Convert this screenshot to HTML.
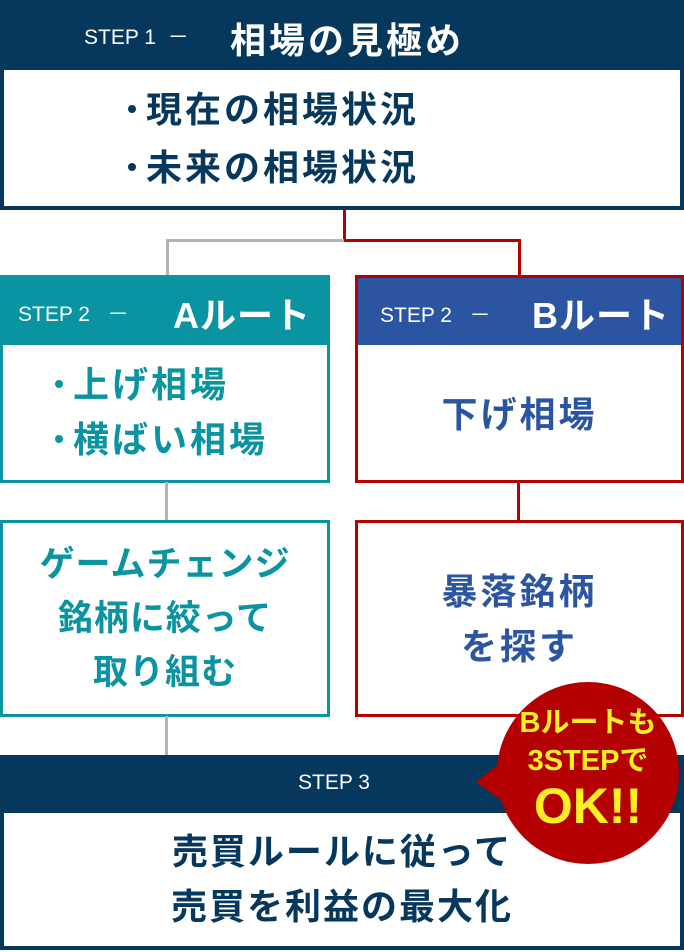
<!DOCTYPE html>
<html><head><meta charset="utf-8"><style>
*{margin:0;padding:0;box-sizing:border-box}
body{width:684px;height:952px;background:#fff;position:relative;overflow:hidden;font-family:"Liberation Sans","Noto Sans CJK JP",sans-serif;font-weight:bold}
.a{position:absolute}
.c{display:flex;align-items:center;justify-content:center;text-align:center}
.s{font-weight:normal;font-size:21px}
.b{display:inline-block;width:22px;height:10px;position:relative;vertical-align:middle}
.b::before{content:"";position:absolute;left:4px;top:-2px;width:8px;height:8px;border-radius:50%;background:currentColor}
.t{font-size:36px;letter-spacing:3px;white-space:nowrap}
</style></head><body>
<div class="a" style="left:0;top:0;width:684px;height:70px;background:#06375c;color:#fff">
<span class="a s" style="left:84px;top:21px">STEP 1 &nbsp;－</span>
<span class="a t" style="left:230px;top:12px;font-size:36px">相場の見極め</span></div>
<div class="a t" style="left:0;top:68px;width:684px;height:142px;border:4px solid #06375c;border-top:none;color:#06375c;line-height:58px;padding:13px 0 0 120px"><span class="b"></span>現在の相場状況<br><span class="b"></span>未来の相場状況</div>

<div class="a" style="left:343px;top:209px;width:3px;height:33px;background:#b40000"></div>
<div class="a" style="left:343px;top:239px;width:178px;height:3px;background:#b40000"></div>
<div class="a" style="left:518px;top:239px;width:3px;height:38px;background:#b40000"></div>
<div class="a" style="left:166px;top:239px;width:178px;height:3px;background:#b4b4b4"></div>
<div class="a" style="left:166px;top:239px;width:3px;height:38px;background:#b4b4b4"></div>

<div class="a" style="left:0;top:275px;width:330px;height:70px;background:#0a93a0;color:#fff">
<span class="a s" style="left:18px;top:23px">STEP 2 &nbsp;&nbsp;－</span>
<span class="a t" style="left:173px;top:12px;letter-spacing:1px">Aルート</span></div>
<div class="a t" style="left:0;top:344px;width:330px;height:139px;border:3px solid #0a93a0;border-top:none;color:#0a93a0;line-height:55px;padding:13px 0 0 48px"><span class="b"></span>上げ相場<br><span class="b"></span>横ばい相場</div>
<div class="a" style="left:165px;top:482px;width:3px;height:40px;background:#b4b4b4"></div>
<div class="a c t" style="left:0;top:520px;width:330px;height:197px;border:3px solid #0a93a0;color:#0a93a0;line-height:54px;letter-spacing:1px;font-size:35px">ゲームチェンジ<br>銘柄に絞って<br>取り組む</div>
<div class="a" style="left:165px;top:716px;width:3px;height:40px;background:#b4b4b4"></div>

<div class="a" style="left:355px;top:275px;width:329px;height:70px;background:#2b55a0;border:3px solid #b40000;border-bottom:none;color:#fff">
<span class="a s" style="left:22px;top:21px">STEP 2 &nbsp;&nbsp;－</span>
<span class="a t" style="left:174px;top:9px;letter-spacing:1px">Bルート</span></div>
<div class="a c t" style="left:355px;top:344px;width:329px;height:139px;border:3px solid #b40000;border-top:none;color:#2b55a0">下げ相場</div>
<div class="a" style="left:517px;top:482px;width:3px;height:40px;background:#b40000"></div>
<div class="a c t" style="left:355px;top:520px;width:329px;height:197px;border:3px solid #b40000;color:#2b55a0;line-height:55px">暴落銘柄<br>を探す</div>

<div class="a" style="left:0;top:755px;width:684px;height:58px;background:#06375c;color:#fff">
<span class="a s" style="left:298px;top:16px">STEP 3</span></div>
<div class="a c t" style="left:0;top:811px;width:684px;height:139px;border:4px solid #06375c;border-top:none;color:#06375c;line-height:55px;letter-spacing:2px">売買ルールに従って<br>売買を利益の最大化</div>

<svg class="a" style="left:0;top:0" width="684" height="952"><circle cx="588" cy="773" r="91" fill="#b40000"/><polygon points="476,782 510,755 512,808" fill="#b40000"/></svg>
<div class="a c" style="left:497px;top:704px;width:182px;color:#ffed26;font-size:29px;line-height:38px;flex-direction:column;white-space:nowrap">
<div>Bルートも</div><div>3STEPで</div><div style="font-size:50px;line-height:52px">OK!!</div></div>
</body></html>
